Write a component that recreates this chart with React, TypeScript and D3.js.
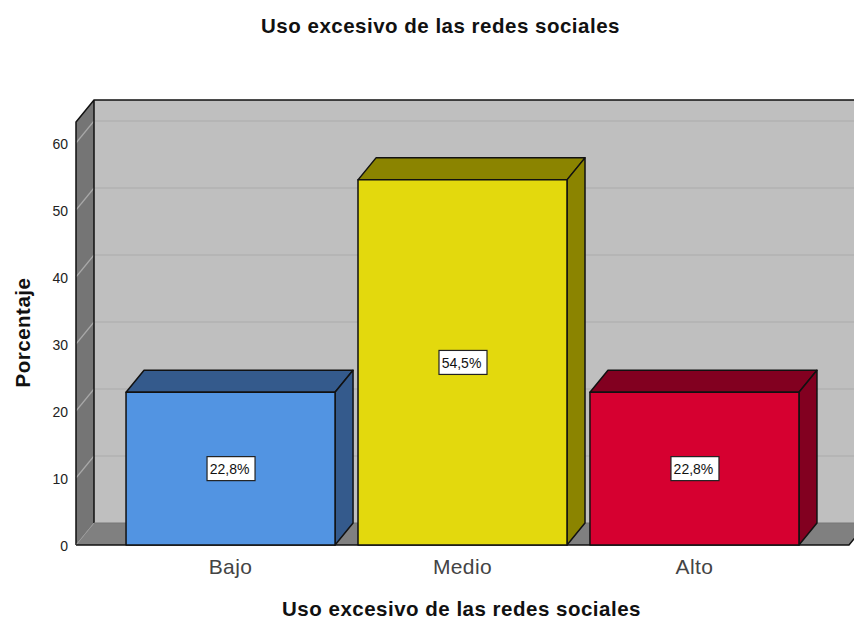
import React from "react";
import * as d3 from "d3";

const categories = ["Bajo", "Medio", "Alto"];
const values = [22.8, 54.5, 22.8];
const valueLabels = ["22,8%", "54,5%", "22,8%"];
const frontColors = ["#5294e2", "#e3d90d", "#d60030"];
const darkColors = ["#345a8c", "#8b8400", "#820020"];
const yTicks = [0, 10, 20, 30, 40, 50, 60];
const title = "Uso excesivo de las redes sociales";
const yTitle = "Porcentaje";

const W = 854;
const H = 620;
const DX = 18;
const DY = -22;
const FONT = "'Liberation Sans', Arial, sans-serif";

const y = d3.scaleLinear().domain([0, 60]).range([545, 143]);
const x = d3
  .scaleBand<string>()
  .domain(categories)
  .range([76, 849])
  .paddingInner(0.099)
  .paddingOuter(0.2157);

const poly = (pts: [number, number][]) => pts.map((p) => p.join(",")).join(" ");

export default function App() {
  const xL = 76;
  const xR = 849;
  const yB = y(0);
  const yT = 122;
  const bw = x.bandwidth();
  return (
    <svg
      width={W}
      height={H}
      viewBox={`0 0 ${W} ${H}`}
      style={{ position: "absolute", left: 0, top: 0, background: "#fff" }}
      fontFamily={FONT}
    >
      {/* back wall */}
      <rect x={xL + DX} y={yT + DY} width={xR - xL} height={yB - yT} fill="#bfbfbf" />
      {/* left wall */}
      <polygon
        points={poly([[xL, yT], [xL + DX, yT + DY], [xL + DX, yB + DY], [xL, yB]])}
        fill="#757575"
      />
      {/* floor */}
      <polygon
        points={poly([[xL, yB], [xL + DX, yB + DY], [xR + DX, yB + DY], [xR, yB]])}
        fill="#808080"
      />
      {/* grid lines */}
      {yTicks.filter((t) => t > 0).map((t) => (
        <g key={t}>
          <line x1={xL + DX} x2={xR + DX} y1={y(t) + DY} y2={y(t) + DY} stroke="#b2b2b2" strokeWidth={1.5} />
          <line x1={xL} x2={xL + DX} y1={y(t)} y2={y(t) + DY} stroke="#a8a8a8" strokeWidth={1.2} />
        </g>
      ))}
      {/* frame */}
      <path
        d={`M${xL},${yB}V${yT}L${xL + DX},${yT + DY}H${W + 20}M${xL + DX},${yT + DY}V${yB + DY}`}
        fill="none"
        stroke="#111"
        strokeWidth={1.5}
      />
      <line x1={xL + DX} x2={xR + DX} y1={yB + DY} y2={yB + DY} stroke="#777" strokeWidth={1} />
      <line x1={xL} y1={yB} x2={xL + DX} y2={yB + DY} stroke="#999" strokeWidth={1} />
      <path d={`M${xL},${yB}H${xR}L${xR + DX},${yB + DY}`} fill="none" stroke="#111" strokeWidth={1.5} />
      {/* bars */}
      {categories.map((c, i) => {
        const x0 = x(c)!;
        const x1 = x0 + bw;
        const yv = y(values[i]);
        return (
          <g key={c} stroke="#111" strokeWidth={1.5} strokeLinejoin="round">
            <polygon
              points={poly([[x0, yv], [x0 + DX, yv + DY], [x1 + DX, yv + DY], [x1, yv]])}
              fill={darkColors[i]}
            />
            <polygon
              points={poly([[x1, yv], [x1 + DX, yv + DY], [x1 + DX, yB + DY], [x1, yB]])}
              fill={darkColors[i]}
            />
            <rect x={x0} y={yv} width={bw} height={yB - yv} fill={frontColors[i]} />
          </g>
        );
      })}
      {/* value labels */}
      {categories.map((c, i) => {
        const cx = x(c)! + bw / 2 + 0.5;
        const cy = y(values[i] / 2);
        return (
          <g key={c}>
            <rect x={cx - 24} y={cy - 12} width={48} height={24} fill="#fff" stroke="#222" strokeWidth={1.2} />
            <text x={cx - 1.5} y={cy + 5.5} textAnchor="middle" fontSize={14} fill="#111">
              {valueLabels[i]}
            </text>
          </g>
        );
      })}
      {/* y ticks */}
      {yTicks.map((t) => (
        <text key={t} x={68} y={y(t) + 6} textAnchor="end" fontSize={14} fill="#222">
          {t}
        </text>
      ))}
      {/* category labels */}
      {categories.map((c) => (
        <text key={c} x={x(c)! + bw / 2} y={573.5} textAnchor="middle" fontSize={21} letterSpacing={0.4} fill="#444">
          {c}
        </text>
      ))}
      {/* titles */}
      <text x={440.5} y={32.5} textAnchor="middle" fontSize={20.5} letterSpacing={0.5} fontWeight="bold" fill="#111">
        {title}
      </text>
      <text x={461.5} y={615.5} textAnchor="middle" fontSize={20.5} letterSpacing={0.5} fontWeight="bold" fill="#111">
        {title}
      </text>
      <text
        transform={`translate(30,332.5) rotate(-90)`}
        textAnchor="middle"
        fontSize={20.5}
        letterSpacing={0.5}
        fontWeight="bold"
        fill="#111"
      >
        {yTitle}
      </text>
    </svg>
  );
}
